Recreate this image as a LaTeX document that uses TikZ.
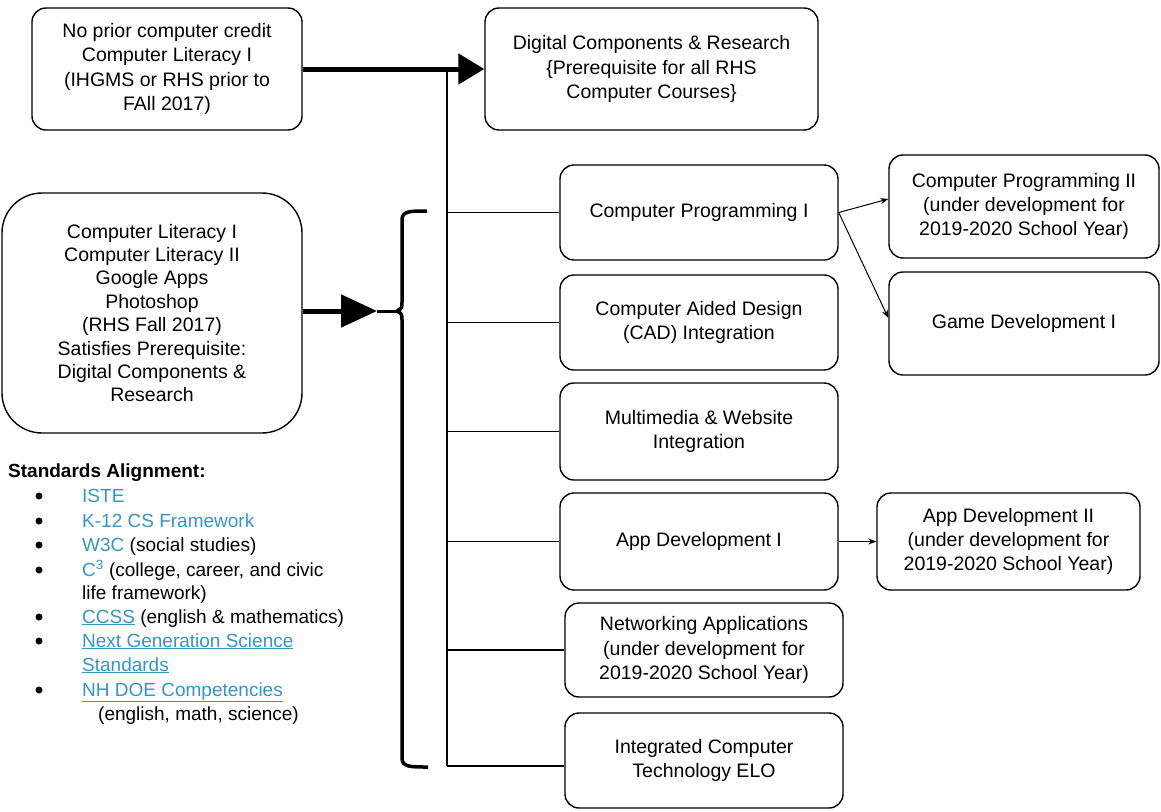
\documentclass[tikz,border=0pt]{standalone}
\usepackage{fontspec}
\setmainfont{Liberation Sans}
\usetikzlibrary{arrows.meta}
\definecolor{linkblue}{RGB}{52,150,196}
\tikzset{
  box/.style={draw, line width=1.4pt, rounded corners=14pt, align=center,
    font=\fontsize{19.5}{24.3}\selectfont, inner sep=2pt},
  thin/.style={line width=1.1pt},
  thinarrow/.style={line width=1pt, -{Stealth[length=8pt,width=6pt]}},
  item/.style={anchor=base west, inner sep=0pt, font=\fontsize{19}{22}\selectfont},
  bul/.style={fill=black, circle, inner sep=0pt, minimum size=7pt},
}
\begin{document}
\begin{tikzpicture}[x=1pt,y=-1pt]
\useasboundingbox (0,0) rectangle (1161,811);
% boxes
\node[box, minimum width=270pt, minimum height=122pt] (tl) at (167,69)
  {No prior computer credit\\Computer Literacy I\\(IHGMS or RHS prior to\\FAll 2017)};
\node[box, minimum width=333pt, minimum height=122pt] (dig) at (651.5,69)
  {Digital Components \& Research\\\{Prerequisite for all RHS\\Computer Courses\}};
\node[box, rounded corners=40pt, minimum width=300pt, minimum height=240pt, font=\fontsize{19.5}{23.4}\selectfont] (lm) at (152,313)
  {Computer Literacy I\\Computer Literacy II\\Google Apps\\Photoshop\\(RHS Fall 2017)\\Satisfies Prerequisite:\\Digital Components \&\\Research};
\node[box, minimum width=278pt, minimum height=95pt] (cp1) at (699,212.5) {Computer Programming I};
\node[box, minimum width=278pt, minimum height=95pt] (cad) at (699,322.5) {Computer Aided Design\\(CAD) Integration};
\node[box, minimum width=278pt, minimum height=97pt] (mm) at (699,431.5) {Multimedia \& Website\\Integration};
\node[box, minimum width=278pt, minimum height=97pt] (ad1) at (699,541.5) {App Development I};
\node[box, minimum width=278pt, minimum height=94pt] (net) at (704,650) {Networking Applications\\(under development for\\2019-2020 School Year)};
\node[box, minimum width=278pt, minimum height=95pt] (ict) at (704,760.5) {Integrated Computer\\Technology ELO};
\node[box, minimum width=270pt, minimum height=103pt] (cp2) at (1024,206.5) {Computer Programming II\\(under development for\\2019-2020 School Year)};
\node[box, minimum width=270pt, minimum height=103pt] (gd) at (1024,323.5) {Game Development I};
\node[box, minimum width=263pt, minimum height=97pt] (ad2) at (1008.5,541.5) {App Development II\\(under development for\\2019-2020 School Year)};
% top thick arrow and trunk
\coordinate (trunktop) at (447,69);
\coordinate (trunkbot) at (447,766);
\draw[line width=5pt, -{Triangle[length=26pt,width=30pt]}] (tl.east) -- (dig.west);
\draw[thin] (trunktop) -- (trunkbot);
\draw[thin] (447,212.5) -- (cp1.west);
\draw[thin] (447,322.5) -- (cad.west);
\draw[thin] (447,431.5) -- (mm.west);
\draw[thin] (447,541.5) -- (ad1.west);
\draw[thin] (447,650) -- (net.west);
\draw[thin] (trunkbot) -- (ict.west |- trunkbot);
% bracket
\coordinate (brmid) at (401,311);
\draw[line width=3.5pt, line join=round] (427,211) .. controls (410,211) and (402,211) .. (402,220)
  -- (402,302) .. controls (402,308) .. (397,311) .. controls (402,314) .. (402,320)
  -- (402,758) .. controls (402,767) and (410,767) .. (428,767);
\coordinate (arrend) at (377,311);
\draw[line width=5pt, -{Triangle[length=36pt,width=32pt]}] (lm.east |- arrend) -- (arrend);
\draw[line width=3pt] (arrend) -- (brmid);
% thin arrows
\draw[thinarrow] (cp1.east) -- (cp2.west |- 0,199);
\draw[thinarrow] (cp1.east) -- (gd.west |- 0,318);
\draw[thinarrow] (ad1.east) -- (ad2.west);
% standards
\node[anchor=base west, inner sep=0pt, font=\fontsize{19}{22}\selectfont\bfseries] (sa) at (8,477) {Standards Alignment:};
\foreach \y/\t [count=\i] in {
  502/{\textcolor{linkblue}{ISTE}},
  527/{\textcolor{linkblue}{K-12 CS Framework}},
  551/{\textcolor{linkblue}{W3C} (social studies)},
  576/{\textcolor{linkblue}{C\textsuperscript{3}} (college, career, and civic},
  623/{\textcolor{linkblue}{\underline{CCSS}} (english \& mathematics)},
  647/{\textcolor{linkblue}{\underline{Next Generation Science}}},
  696/{\textcolor{linkblue}{\underline{NH DOE Competencies}}}}
{
  \node[bul] (b\i) at (39,\y-6) {};
  \node[item] (t\i) at (82,\y) {\t};
}
\node[item] (life) at (82,599) {life framework)};
\node[item] (stds) at (82,671) {\textcolor{linkblue}{\underline{Standards}}};
\node[item] (ems) at (98,720) {(english, math, science)};
\end{tikzpicture}
\end{document}
